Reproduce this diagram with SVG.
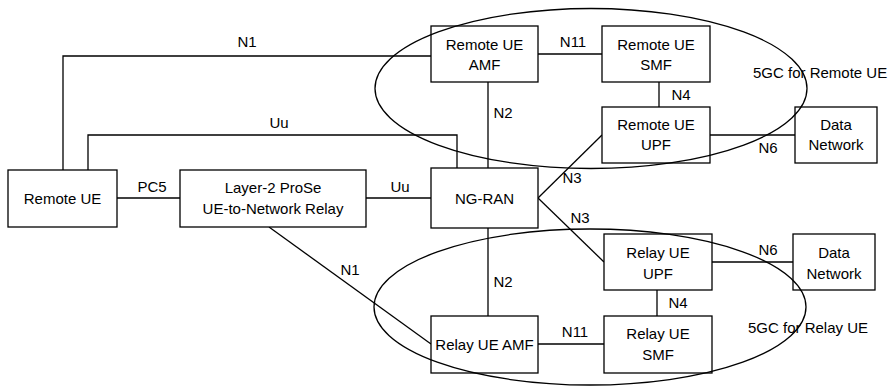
<svg xmlns="http://www.w3.org/2000/svg" width="888" height="387" viewBox="0 0 888 387">
<style>
.box{fill:#fff;stroke:#000;stroke-width:1.3}
.ln{fill:none;stroke:#000;stroke-width:1.3}
text{font-family:"Liberation Sans",Arial,sans-serif;font-size:15px;fill:#000;text-anchor:middle}
.st{text-anchor:start}
</style>
<rect width="888" height="387" fill="#fff"/>
<g id="connectors">
<polyline class="ln" points="63,170 63,56 431,56"/>
<polyline class="ln" points="88,170 88,135 457,135 457,168"/>
<line class="ln" x1="117" y1="198" x2="180" y2="198"/>
<line class="ln" x1="366" y1="198" x2="431" y2="198"/>
<line class="ln" x1="538" y1="54" x2="602" y2="54"/>
<line class="ln" x1="488" y1="82" x2="488" y2="168"/>
<line class="ln" x1="659" y1="82" x2="659" y2="107"/>
<line class="ln" x1="710" y1="135" x2="795" y2="135"/>
<line class="ln" x1="538" y1="198" x2="602" y2="135"/>
<line class="ln" x1="538" y1="198" x2="604" y2="262"/>
<line class="ln" x1="488" y1="228" x2="488" y2="316"/>
<line class="ln" x1="712" y1="262" x2="793" y2="262"/>
<line class="ln" x1="657" y1="290" x2="657" y2="316"/>
<line class="ln" x1="538" y1="344" x2="604" y2="344"/>
<line class="ln" x1="269" y1="227" x2="431" y2="344"/>
<text x="247" y="47">N1</text>
<text x="279" y="128">Uu</text>
<text x="152" y="192">PC5</text>
<text x="400" y="192">Uu</text>
<text x="573" y="47">N11</text>
<text x="503" y="118">N2</text>
<text x="681" y="100">N4</text>
<text x="768" y="153">N6</text>
<text x="572" y="183">N3</text>
<text x="580" y="223">N3</text>
<text x="768" y="255">N6</text>
<text x="678" y="308">N4</text>
<text x="503" y="287">N2</text>
<text x="575" y="337">N11</text>
<text x="350" y="275">N1</text>
</g>
<g id="remote-ue"><rect class="box" x="8" y="170" width="109" height="57"/><text x="62.5" y="204">Remote UE</text></g>
<g id="relay"><rect class="box" x="180" y="170" width="186" height="57"/><text x="273" y="193">Layer-2 ProSe</text><text x="273" y="214">UE-to-Network Relay</text></g>
<g id="ng-ran"><rect class="box" x="431" y="168" width="107" height="60"/><text x="484.5" y="204">NG-RAN</text></g>
<g id="remote-amf"><rect class="box" x="431" y="26" width="107" height="56"/><text x="484.5" y="50">Remote UE</text><text x="484.5" y="70">AMF</text></g>
<g id="remote-smf"><rect class="box" x="602" y="26" width="108" height="56"/><text x="656" y="50">Remote UE</text><text x="656" y="70">SMF</text></g>
<g id="remote-upf"><rect class="box" x="602" y="107" width="108" height="56"/><text x="656" y="130">Remote UE</text><text x="656" y="150">UPF</text></g>
<g id="dn-top"><rect class="box" x="795" y="107" width="82" height="56"/><text x="836" y="130">Data</text><text x="836" y="150">Network</text></g>
<g id="relay-upf"><rect class="box" x="604" y="234" width="108" height="56"/><text x="658" y="258">Relay UE</text><text x="658" y="279">UPF</text></g>
<g id="dn-bottom"><rect class="box" x="793" y="234" width="82" height="56"/><text x="834" y="258">Data</text><text x="834" y="279">Network</text></g>
<g id="relay-amf"><rect class="box" x="431" y="316" width="107" height="57"/><text x="484.5" y="350">Relay UE AMF</text></g>
<g id="relay-smf"><rect class="box" x="604" y="316" width="108" height="57"/><text x="658" y="339">Relay UE</text><text x="658" y="360">SMF</text></g>
<g id="5gc-remote"><ellipse class="ln" cx="591" cy="88.5" rx="216" ry="80"/><text class="st" x="753" y="78">5GC for Remote UE</text></g>
<g id="5gc-relay"><ellipse class="ln" cx="590" cy="307" rx="216" ry="78"/><text class="st" x="748" y="333">5GC for Relay UE</text></g>
</svg>
